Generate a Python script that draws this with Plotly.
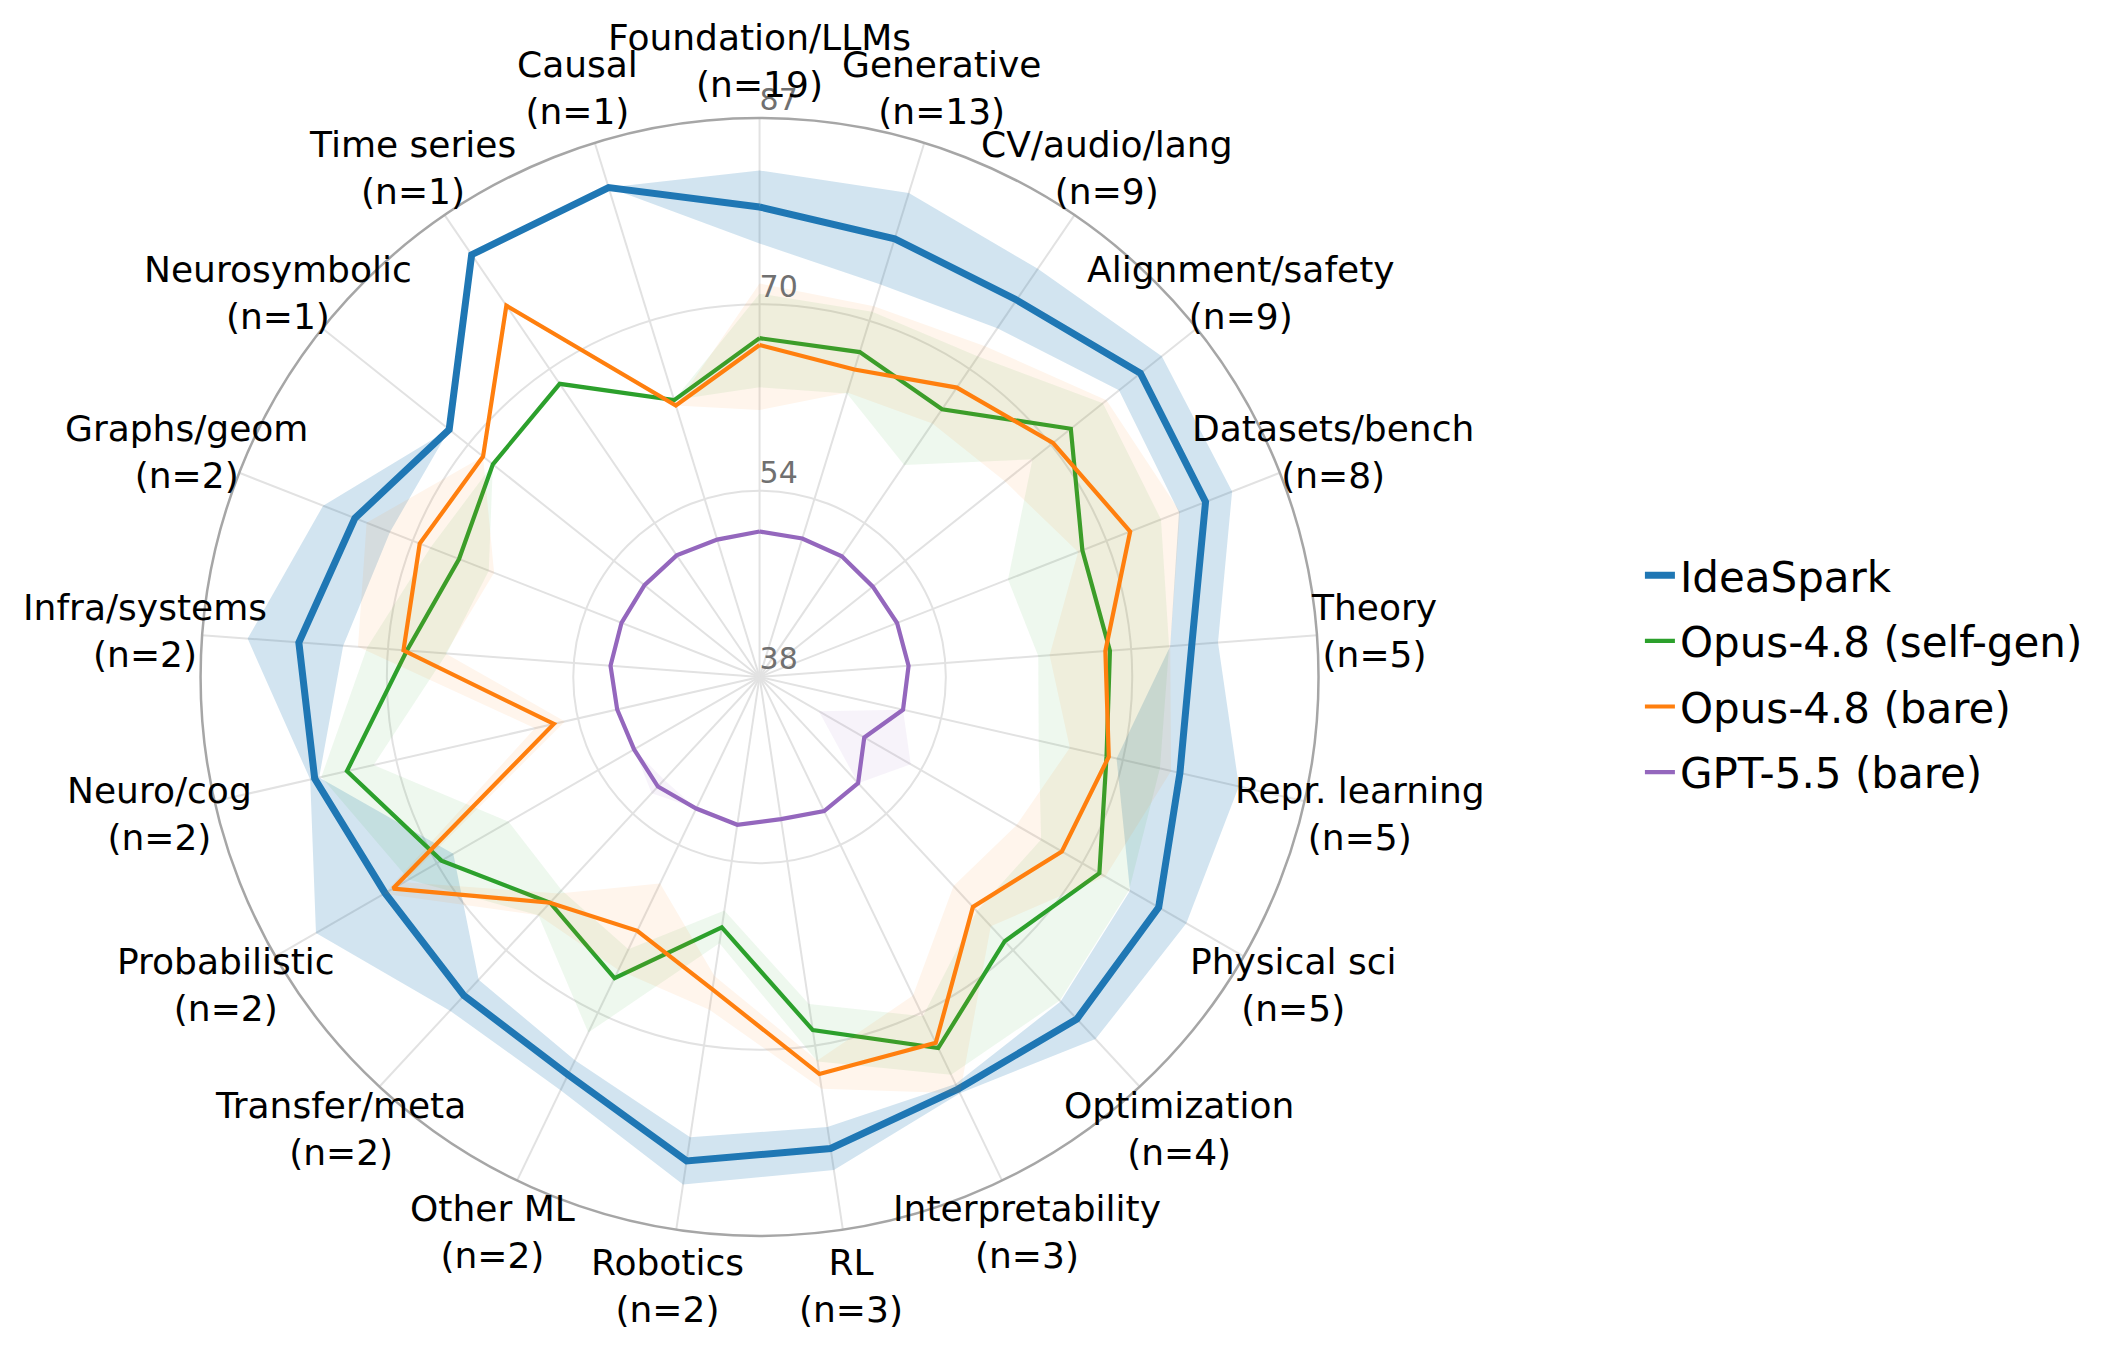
import math
import plotly.graph_objects as go

categories = ["Foundation/LLMs", "Generative", "CV/audio/lang", "Alignment/safety",
              "Datasets/bench", "Theory", "Repr. learning", "Physical sci",
              "Optimization", "Interpretability", "RL", "Robotics", "Other ML",
              "Transfer/meta", "Probabilistic", "Neuro/cog", "Infra/systems",
              "Graphs/geom", "Neurosymbolic", "Time series", "Causal"]
counts = [19, 13, 9, 9, 8, 5, 5, 5, 4, 3, 3, 2, 2, 2, 2, 2, 2, 2, 1, 1, 1]

ideaspark = [79.2, 78.2, 78.0, 80.7, 80.0, 76.0, 75.8, 78.4, 78.9, 78.1, 79.8,
             80.9, 76.7, 76.1, 75.9, 78.0, 78.5, 76.1, 72.8, 82.8, 82.9]
ideaspark_lo = [76.0, 74.0, 75.0, 78.3, 77.5, 74.1, 70.1, 75.5, 76.8, 77.6, 77.9,
                78.8, 75.3, 74.2, 69.0, 77.6, 74.6, 72.8, 72.8, 82.8, 82.9]
ideaspark_hi = [82.4, 82.4, 81.3, 83.1, 82.5, 78.3, 81.1, 81.2, 81.3, 78.5, 81.7,
                83.0, 78.2, 77.9, 82.9, 78.4, 83.0, 79.1, 72.8, 82.8, 82.9]

self_gen = [67.7, 67.8, 66.4, 72.9, 68.4, 68.8, 69.2, 72.4, 69.6, 74.1, 69.3,
            60.2, 67.3, 65.0, 70.2, 75.1, 69.0, 66.3, 67.9, 69.1, 63.4]
self_gen_lo = [63.4, 64.0, 60.5, 68.6, 61.4, 62.5, 63.1, 66.5, 66.0, 71.0, 67.0,
               58.7, 64.5, 63.5, 63.4, 72.7, 65.5, 63.5, 67.9, 69.1, 63.4]
self_gen_hi = [71.6, 71.5, 72.0, 76.5, 75.8, 74.0, 74.0, 75.4, 76.7, 76.7, 72.1,
               61.6, 72.6, 66.5, 73.5, 77.4, 72.5, 69.0, 67.9, 69.1, 63.4]

opus_bare = [67.1, 66.2, 68.7, 70.9, 72.9, 68.4, 69.4, 68.6, 65.5, 73.6, 73.2,
             65.7, 62.7, 65.0, 75.1, 56.5, 69.3, 70.0, 69.0, 77.4, 62.9]
opus_bare_lo = [61.4, 64.1, 64.9, 65.5, 68.0, 63.5, 65.9, 64.0, 63.0, 69.0, 72.0,
                64.5, 58.1, 63.9, 74.0, 55.5, 65.6, 63.0, 69.0, 77.4, 62.9]
opus_bare_hi = [72.5, 72.0, 73.1, 76.9, 77.6, 74.1, 75.0, 73.0, 67.8, 78.5, 74.5,
                67.5, 66.5, 66.5, 76.0, 58.2, 73.3, 75.0, 69.0, 77.4, 62.9]

gpt_bare = [50.75, 50.7, 50.8, 50.7, 50.95, 51.1, 50.9, 48.6, 50.7, 51.05, 50.6,
            51.1, 50.8, 51.1, 50.7, 50.8, 51.1, 51.0, 50.9, 50.9, 50.6]
gpt_bare_lo = [50.75, 50.7, 50.8, 50.7, 50.95, 51.1, 50.9, 44.0, 50.7, 51.05, 50.6,
               51.1, 50.8, 50.3, 50.7, 50.8, 51.1, 51.0, 50.9, 50.9, 50.6]
gpt_bare_hi = [50.75, 50.7, 50.8, 50.7, 50.95, 51.1, 50.9, 53.3, 50.7, 51.05, 50.6,
               51.1, 50.8, 51.9, 50.7, 50.8, 51.1, 51.0, 50.9, 50.9, 50.6]

r_ticks = [38, 54.33, 70.67, 87]
r_tick_text = ["38", "54", "70", "87"]

W, H = 2127, 1348
dom_x = [0.0943, 0.6199]
dom_y = [0.0831, 0.9125]

labels = [f"{c}<br>(n={n})" for c, n in zip(categories, counts)]

series = [
    ("IdeaSpark", ideaspark, ideaspark_lo, ideaspark_hi, "#1f77b4", 7, "rgba(31,119,180,0.2)"),
    ("Opus-4.8 (self-gen)", self_gen, self_gen_lo, self_gen_hi, "#2ca02c", 4.2, "rgba(44,160,44,0.08)"),
    ("Opus-4.8 (bare)", opus_bare, opus_bare_lo, opus_bare_hi, "#ff7f0e", 4.2, "rgba(255,127,14,0.08)"),
    ("GPT-5.5 (bare)", gpt_bare, gpt_bare_lo, gpt_bare_hi, "#9467bd", 4.2, "rgba(148,103,189,0.08)"),
]

fig = go.Figure()
loop = labels + [labels[0]]
for name, vals, lo, hi, color, width, band in series:
    # band: outer loop then inner loop reversed -> ring
    fig.add_trace(go.Scatterpolar(
        r=hi + [hi[0]] + (lo + [lo[0]])[::-1],
        theta=loop + loop[::-1],
        mode="lines", fill="toself", fillcolor=band,
        line=dict(width=0, color="rgba(0,0,0,0)"),
        hoverinfo="skip", showlegend=False,
    ))
    fig.add_trace(go.Scatterpolar(
        r=vals + [vals[0]], theta=loop, mode="lines", name=name,
        line=dict(color=color, width=width), legendgroup=name,
    ))

# radial tick labels
fig.add_trace(go.Scatterpolar(
    r=r_ticks, theta=[labels[0]] * len(r_ticks), text=r_tick_text, mode="text",
    textposition="top right", textfont=dict(size=30, color="#707070"),
    cliponaxis=False, showlegend=False, hoverinfo="skip",
))

# category labels centred on a ring just outside the plot
cx = (dom_x[0] + dom_x[1]) / 2
cy = (dom_y[0] + dom_y[1]) / 2
radius_px = (dom_x[1] - dom_x[0]) * W / 2
label_px = radius_px * 1.102
for i, lab in enumerate(labels):
    ang = math.radians(360 * i / len(labels))
    fig.add_annotation(
        x=cx + label_px * math.sin(ang) / W, y=cy + label_px * math.cos(ang) / H,
        xref="paper", yref="paper", text=lab, showarrow=False,
        xanchor="center", yanchor="middle", align="center",
        font=dict(size=36, color="black"),
    )

fig.update_layout(
    width=W, height=H,
    margin=dict(l=0, r=0, t=0, b=0),
    paper_bgcolor="white",
    font=dict(family="DejaVu Sans", color="black"),
    polar=dict(
        domain=dict(x=dom_x, y=dom_y),
        bgcolor="white",
        angularaxis=dict(
            direction="clockwise", rotation=90,
            categoryorder="array", categoryarray=labels,
            showticklabels=False,
            showline=True, linecolor="#a6a6a6", linewidth=2.5,
            gridcolor="#e2e2e2", gridwidth=2, ticks="",
        ),
        radialaxis=dict(
            range=[38, 87], tickvals=r_ticks, showticklabels=False,
            showline=False, ticks="", angle=90,
            gridcolor="#e2e2e2", gridwidth=2,
        ),
    ),
    legend=dict(
        x=0.771, y=0.5, xanchor="left", yanchor="middle",
        font=dict(size=42), bgcolor="rgba(0,0,0,0)", tracegroupgap=8,
    ),
)

fig.write_html("out.html", config={"displayModeBar": False},
               post_script="document.body.style.margin='0';")
